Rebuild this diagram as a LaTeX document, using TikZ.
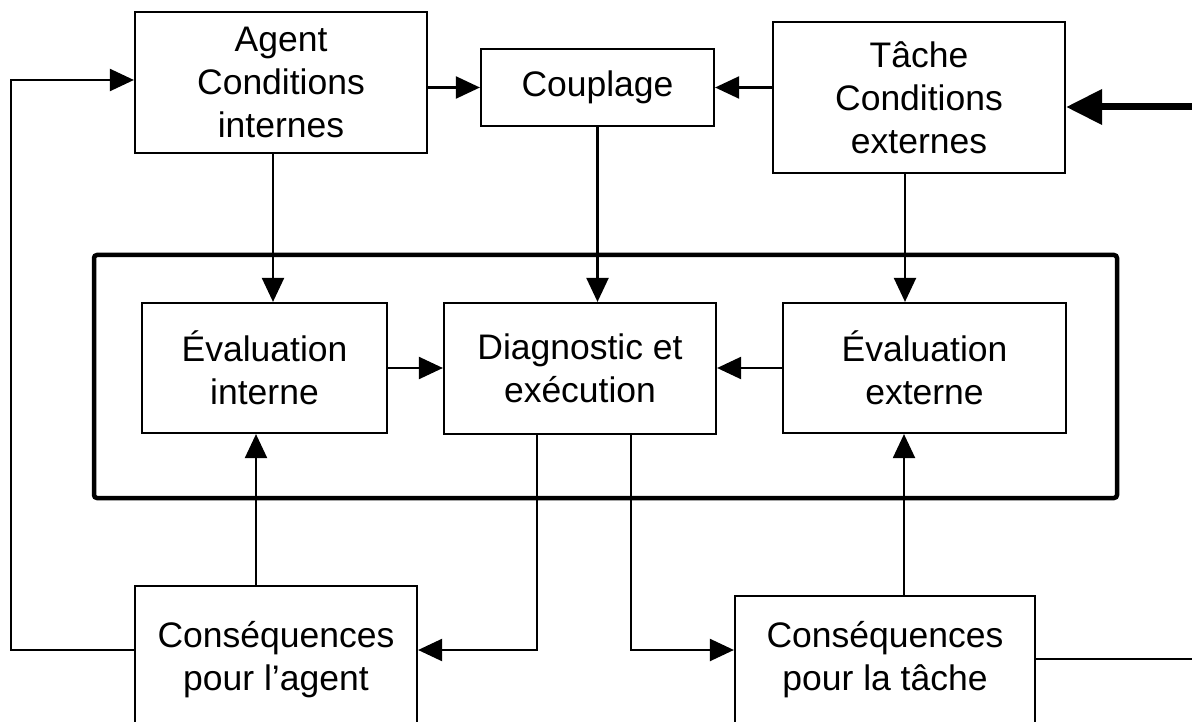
\documentclass[tikz,border=0pt]{standalone}
\usepackage{fontspec}
\setmainfont{Liberation Sans}
\usetikzlibrary{arrows.meta,calc}
\newcommand\boxtext[5]{\raisebox{0pt}[#3][#4]{\vtop{\halign{\hfil##\hfil\cr #1\cr\noalign{\vskip #5}#2\cr}}}}
\begin{document}
\begin{tikzpicture}[x=1pt,y=-1pt,
  every node/.style={font=\fontsize{35.5}{43}\selectfont},
  blk/.style={draw, line width=2.2pt, inner sep=0pt, align=center},
  conn/.style={line width=2.2pt, -{Triangle[length=24pt,width=22pt]}},
  plainline/.style={line width=2.2pt},
  bigarr/.style={line width=7pt, -{Triangle[length=36pt,width=34pt]}}]
\useasboundingbox (0,0) rectangle (1192,722);
\fill[white] (0,0) rectangle (1192,722);

\node[blk, minimum width=292pt, minimum height=141pt] (agent) at (281,82.5) {Agent\\Conditions\\internes};
\node[blk, minimum width=233pt, minimum height=77pt] (coup) at (597.5,87.5) {Couplage};
\node[blk, minimum width=292pt, minimum height=151pt] (tache) at (919,97.5) {Tâche\\Conditions\\externes};
\node[draw, line width=4.5pt, rounded corners=3pt, minimum width=1023pt, minimum height=243pt, inner sep=0pt] (frame) at (605.5,376.5) {};
\node[blk, minimum width=245pt, minimum height=130pt] (evi) at (264.5,368) {Évaluation\\interne};
\node[blk, minimum width=272pt, minimum height=131pt] (diag) at (580,368.5) {Diagnostic et\\exécution};
\node[blk, minimum width=283pt, minimum height=130pt] (eve) at (924.5,368) {Évaluation\\externe};
\node[blk, minimum width=282pt, anchor=north] (consA) at (276,585) {\boxtext{Conséquences}{pour l’agent}{61pt}{160pt}{0pt}};
\node[blk, minimum width=300pt, anchor=north] (consT) at (885,595) {\boxtext{Conséquences}{pour la tâche}{51pt}{150pt}{0pt}};

\coordinate (ya) at (0,650);
\coordinate (yt) at (0,659);
\coordinate (L) at (11,80);
\coordinate (R) at (1200,107);
\coordinate (Rt) at (1200,659);

\draw[conn] (agent.east |- coup.west) -- (coup.west);
\draw[conn] (tache.west |- coup.east) -- (coup.east);
\coordinate (a1) at ([xshift=-8pt]agent.south);
\draw[conn] (a1) -- (a1 |- evi.north);
\draw[conn] (coup.south) -- (coup.south |- diag.north);
\coordinate (t1) at ([xshift=-14pt]tache.south);
\draw[conn] (t1) -- (t1 |- eve.north);
\draw[conn] (evi.east) -- (evi.east -| diag.west);
\draw[conn] (eve.west) -- (eve.west -| diag.east);
\coordinate (c1) at ([xshift=-20pt]consA.north);
\draw[conn] (c1) -- (c1 |- evi.south);
\coordinate (c2) at ([xshift=19pt]consT.north);
\draw[conn] (c2) -- (c2 |- eve.south);
\coordinate (d1) at ([xshift=-43pt]diag.south);
\coordinate (d2) at ([xshift=51pt]diag.south);
\draw[conn] (d1) |- (consA.east |- ya);
\draw[conn] (d2) |- (consT.west |- ya);
\draw[conn] (consA.west |- ya) -| (L) -- (L -| agent.west);
\draw[plainline] (consT.east |- yt) -- (Rt);
\draw[bigarr] (R) -- (R -| tache.east);
\end{tikzpicture}
\end{document}
